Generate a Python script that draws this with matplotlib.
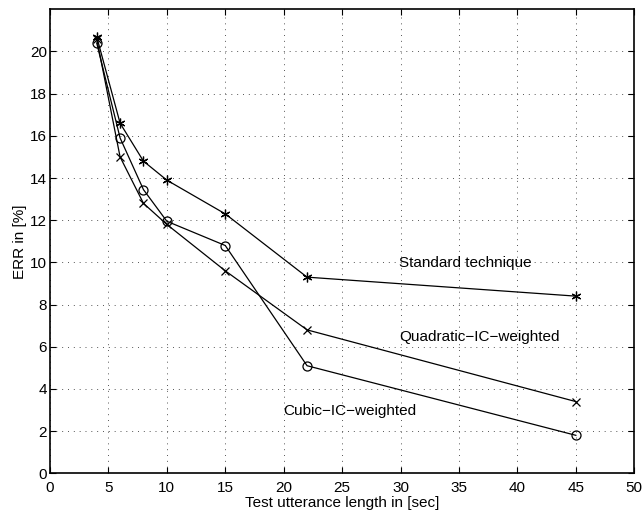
import matplotlib
matplotlib.use("Agg")
import matplotlib.pyplot as plt

x = [4, 6, 8, 10, 15, 22, 45]
standard = [20.7, 16.6, 14.8, 13.9, 12.3, 9.3, 8.4]
quadratic = [20.6, 15.0, 12.8, 11.8, 9.6, 6.8, 3.4]
cubic = [20.4, 15.9, 13.45, 11.95, 10.8, 5.1, 1.8]

plt.rcParams['font.family'] = ['Liberation Sans', 'DejaVu Sans']
fig = plt.figure(figsize=(6.44, 5.14), dpi=100)
ax = fig.add_axes([0.0776, 0.0792, 0.9073, 0.9027])

ax.plot(x, standard, color='black', lw=0.9, marker=(6, 2, 0), ms=7, mew=0.9)
ax.plot(x, quadratic, color='black', lw=0.9, marker='x', ms=6, mew=0.9)
ax.plot(x, cubic, color='black', lw=0.9, marker='o', ms=6.5, mew=0.9, mfc='none')

ax.text(29.9, 9.95, 'Standard technique', fontsize=11, va='center', ha='left')
ax.text(29.9, 6.45, 'Quadratic\u2212IC\u2212weighted', fontsize=11, va='center', ha='left')
ax.text(20.0, 2.95, 'Cubic\u2212IC\u2212weighted', fontsize=11, va='center', ha='left')

ax.set_xlim(0, 50)
ax.set_ylim(0, 22)
ax.set_xticks(range(0, 51, 5))
ax.set_yticks(range(0, 21, 2))
ax.grid(True, linestyle=(0, (1, 5)), color='#555555', lw=0.7)
ax.tick_params(direction='in', top=True, right=True, labelsize=11, length=4, width=0.8)
ax.tick_params(axis='x', pad=5.5)
ax.tick_params(axis='y', pad=2)
for s in ax.spines.values():
    s.set_linewidth(1.2)
ax.set_xlabel('Test utterance length in [sec]', fontsize=11, labelpad=0.5)
ax.set_ylabel('ERR in [%]', fontsize=11, labelpad=2)

fig.savefig('out.png', dpi=100)
